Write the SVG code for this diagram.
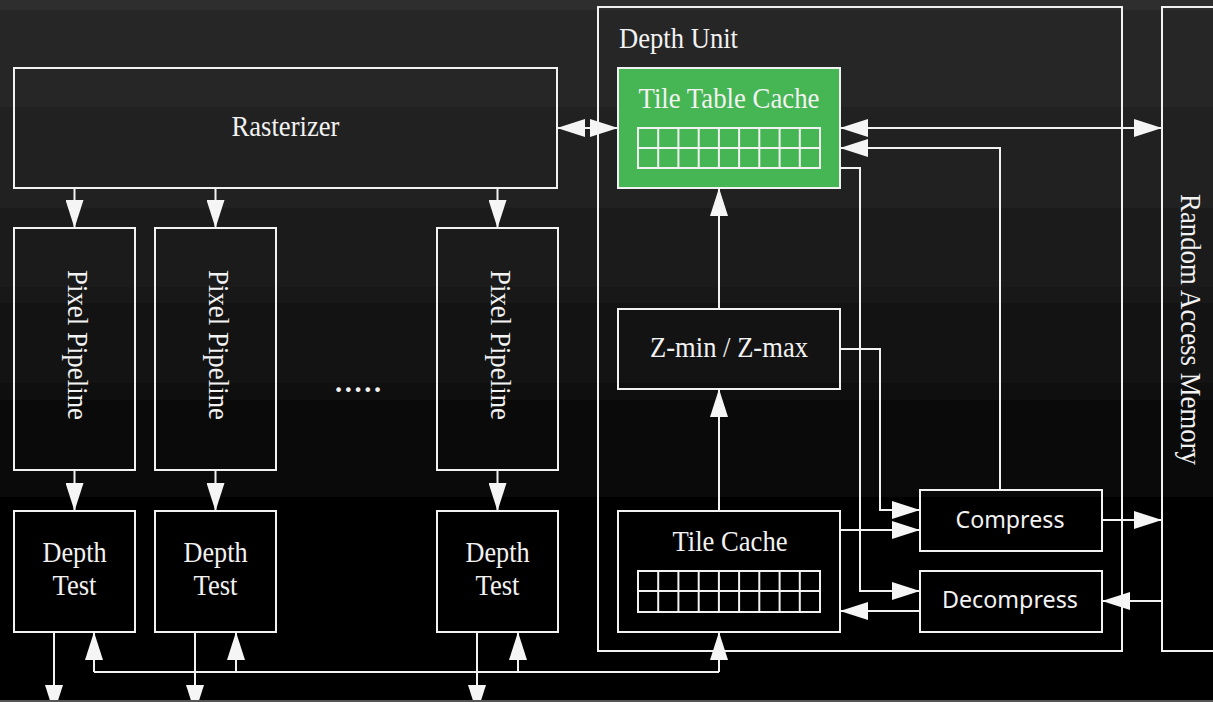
<svg xmlns="http://www.w3.org/2000/svg" width="1213" height="702" viewBox="0 0 1213 702">
<style>
.box{fill:none;stroke:#f2f2f2;stroke-width:2}
.grid{fill:none;stroke:#f2f2f2;stroke-width:2}
.t{font-family:"Liberation Serif","Times New Roman",serif;font-size:28.5px;fill:#f2f2f2}
.s{font-family:"Noto Sans","Open Sans",sans-serif;font-size:24px;fill:#f2f2f2}
.c{fill:none;stroke:#f2f2f2;stroke-width:2}
.c path{marker-end:url(#ah)}
</style>
<defs>
<marker id="ah" viewBox="0 0 28 18" refX="28" refY="9" markerWidth="28" markerHeight="18" markerUnits="userSpaceOnUse" orient="auto-start-reverse">
<path d="M0,0 L28,9 L0,18 z" fill="#f5f5f5"/>
</marker>
</defs>
<g id="background">
<rect x="0" y="0" width="1213" height="702" fill="#000"/>
<rect x="0" y="0" width="1213" height="10" fill="#2e2e2e"/>
<rect x="0" y="10" width="1213" height="97" fill="#262626"/>
<rect x="0" y="107" width="1213" height="101" fill="#212121"/>
<rect x="0" y="208" width="1213" height="79" fill="#1b1b1b"/>
<rect x="0" y="287" width="1213" height="16" fill="#181818"/>
<rect x="0" y="303" width="1213" height="80" fill="#131313"/>
<rect x="0" y="383" width="1213" height="17" fill="#0f0f0f"/>
<rect x="0" y="400" width="1213" height="97" fill="#0a0a0a"/>
</g>
<g id="connectors" class="c">
<path d="M557,128 H618" style="marker-start:url(#ah)"/>
<path d="M840,128 H1162" style="marker-start:url(#ah)"/>
<path d="M1000,490 V148 H840"/>
<path d="M840,168 H860 V591 H920"/>
<path d="M840,349 H880 V510 H920"/>
<path d="M840,530 H920"/>
<path d="M1102,520 H1162"/>
<path d="M1162,601 H1102"/>
<path d="M920,611 H840"/>
<path d="M719,511 V389"/>
<path d="M719,309 V188"/>
<path d="M74.5,188 V228"/>
<path d="M215.5,188 V228"/>
<path d="M497.5,188 V228"/>
<path d="M74.5,470 V511"/>
<path d="M215.5,470 V511"/>
<path d="M497.5,470 V511"/>
<path d="M54,632 V713"/>
<path d="M195,632 V713"/>
<path d="M477,632 V713"/>
<path d="M94,672 H719" style="marker-end:none"/>
<path d="M94,672 V632"/>
<path d="M236,672 V632"/>
<path d="M518,672 V632"/>
<path d="M719,672 V632"/>
</g>
<g id="rasterizer">
<rect class="box" x="14" y="68" width="543" height="120"/>
<text class="t" x="285.5" y="136" text-anchor="middle" textLength="108" lengthAdjust="spacingAndGlyphs">Rasterizer</text>
</g>
<g id="pixel-pipeline-1">
<rect class="box" x="14" y="228" width="121" height="242"/>
<text class="t" transform="translate(68,345) rotate(90)" text-anchor="middle" textLength="150" lengthAdjust="spacingAndGlyphs">Pixel Pipeline</text>
</g>
<g id="pixel-pipeline-2">
<rect class="box" x="155" y="228" width="121" height="242"/>
<text class="t" transform="translate(209,345) rotate(90)" text-anchor="middle" textLength="150" lengthAdjust="spacingAndGlyphs">Pixel Pipeline</text>
</g>
<g id="pixel-pipeline-3">
<rect class="box" x="437" y="228" width="121" height="242"/>
<text class="t" transform="translate(491,345) rotate(90)" text-anchor="middle" textLength="150" lengthAdjust="spacingAndGlyphs">Pixel Pipeline</text>
</g>
<g id="ellipsis">
<text class="t" x="358" y="392" text-anchor="middle" textLength="46" lengthAdjust="spacing" style="font-weight:bold">.....</text>
</g>
<g id="depth-test-1">
<rect class="box" x="14" y="511" width="121" height="121"/>
<text class="t" x="74.5" y="562" text-anchor="middle" textLength="64" lengthAdjust="spacingAndGlyphs">Depth</text>
<text class="t" x="74.5" y="595" text-anchor="middle" textLength="44" lengthAdjust="spacingAndGlyphs">Test</text>
</g>
<g id="depth-test-2">
<rect class="box" x="155" y="511" width="121" height="121"/>
<text class="t" x="215.5" y="562" text-anchor="middle" textLength="64" lengthAdjust="spacingAndGlyphs">Depth</text>
<text class="t" x="215.5" y="595" text-anchor="middle" textLength="44" lengthAdjust="spacingAndGlyphs">Test</text>
</g>
<g id="depth-test-3">
<rect class="box" x="437" y="511" width="121" height="121"/>
<text class="t" x="497.5" y="562" text-anchor="middle" textLength="64" lengthAdjust="spacingAndGlyphs">Depth</text>
<text class="t" x="497.5" y="595" text-anchor="middle" textLength="44" lengthAdjust="spacingAndGlyphs">Test</text>
</g>
<g id="depth-unit">
<rect class="box" x="598" y="7" width="524" height="644"/>
<text class="t" x="619" y="48" textLength="119" lengthAdjust="spacingAndGlyphs">Depth Unit</text>
</g>
<g id="tile-table-cache">
<rect x="618" y="68" width="222" height="120" fill="#46b553" stroke="#f2f2f2" stroke-width="2"/>
<text class="t" x="729" y="108" text-anchor="middle" textLength="181" lengthAdjust="spacingAndGlyphs">Tile Table Cache</text>
<path class="grid" d="M638,128 H820 V168 H638 z M638,148 H820 M658.2,128 V168 M678.4,128 V168 M698.7,128 V168 M718.9,128 V168 M739.1,128 V168 M759.3,128 V168 M779.6,128 V168 M799.8,128 V168"/>
</g>
<g id="zmin-zmax">
<rect class="box" x="618" y="309" width="222" height="80"/>
<text class="t" x="729" y="357" text-anchor="middle" textLength="158" lengthAdjust="spacingAndGlyphs">Z-min / Z-max</text>
</g>
<g id="tile-cache">
<rect class="box" x="618" y="511" width="222" height="121"/>
<text class="t" x="730" y="551" text-anchor="middle" textLength="115" lengthAdjust="spacingAndGlyphs">Tile Cache</text>
<path class="grid" d="M638,571 H820 V612 H638 z M638,591 H820 M658.2,571 V612 M678.4,571 V612 M698.7,571 V612 M718.9,571 V612 M739.1,571 V612 M759.3,571 V612 M779.6,571 V612 M799.8,571 V612"/>
</g>
<g id="compress">
<rect class="box" x="920" y="490" width="182" height="61"/>
<text class="s" x="1010" y="528" text-anchor="middle" textLength="109" lengthAdjust="spacingAndGlyphs">Compress</text>
</g>
<g id="decompress">
<rect class="box" x="920" y="571" width="182" height="61"/>
<text class="s" x="1010" y="608" text-anchor="middle" textLength="136" lengthAdjust="spacingAndGlyphs">Decompress</text>
</g>
<g id="ram">
<rect class="box" x="1162" y="7" width="70" height="644"/>
<text class="t" transform="translate(1181,329.5) rotate(90)" text-anchor="middle" textLength="271" lengthAdjust="spacingAndGlyphs">Random Access Memory</text>
</g>
<rect x="0" y="700" width="1213" height="2" fill="#555"/>
</svg>
